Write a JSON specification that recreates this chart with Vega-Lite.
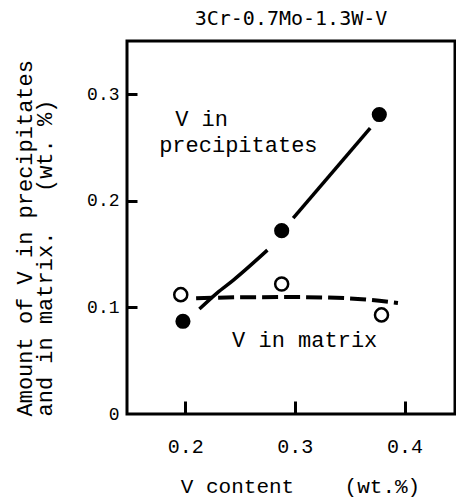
{
  "$schema": "https://vega.github.io/schema/vega-lite/v6.json",
  "width": 328,
  "height": 373,
  "autosize": {"type": "none"},
  "padding": {"left": 127, "top": 41, "right": 1, "bottom": 83},
  "background": "white",
  "config": {
    "view": {"stroke": "black", "strokeWidth": 3},
    "font": "Liberation Mono"
  },
  "title": {
    "text": "3Cr-0.7Mo-1.3W-V",
    "font": "DejaVu Sans Mono",
    "fontSize": 20,
    "fontWeight": "normal",
    "color": "black",
    "anchor": "middle",
    "offset": 12
  },
  "datasets": {
    "points": [
      {"x": 0.198, "y": 0.087, "series": "precipitates"},
      {"x": 0.288, "y": 0.172, "series": "precipitates"},
      {"x": 0.377, "y": 0.281, "series": "precipitates"},
      {"x": 0.196, "y": 0.112, "series": "matrix"},
      {"x": 0.288, "y": 0.122, "series": "matrix"},
      {"x": 0.379, "y": 0.093, "series": "matrix"}
    ],
    "solid": [
      {"x": 0.213, "y": 0.0985, "seg": "a"},
      {"x": 0.229, "y": 0.1135, "seg": "a"},
      {"x": 0.244, "y": 0.1257, "seg": "a"},
      {"x": 0.275, "y": 0.1538, "seg": "a"},
      {"x": 0.2985, "y": 0.1839, "seg": "b"},
      {"x": 0.3687, "y": 0.2683, "seg": "b"}
    ],
    "dashed": [
      {"x": 0.21, "y": 0.1085},
      {"x": 0.25, "y": 0.1095},
      {"x": 0.30, "y": 0.1097},
      {"x": 0.35, "y": 0.1085},
      {"x": 0.394, "y": 0.1041}
    ],
    "labels": [
      {"x": 0.1909, "y": 0.2765, "text": "V in"},
      {"x": 0.1763, "y": 0.2520, "text": "precipitates"},
      {"x": 0.2428, "y": 0.0694, "text": "V in matrix"}
    ]
  },
  "resolve": {"axis": {"x": "independent", "y": "independent"}},
  "layer": [
    {
      "data": {"name": "solid"},
      "mark": {"type": "line", "color": "black", "strokeWidth": 3.5, "interpolate": "monotone"},
      "encoding": {
        "x": {
          "field": "x",
          "type": "quantitative",
          "scale": {"domain": [0.147, 0.446], "nice": false, "zero": false},
          "axis": {
            "values": [0.2, 0.3, 0.4],
            "format": "~g",
            "domain": false,
            "grid": false,
            "ticks": false,
            "labelFont": "Liberation Mono",
            "labelFontSize": 20,
            "labelColor": "black",
            "labelPadding": 22,
            "title": "V content\u00a0\u00a0\u00a0\u00a0(wt.%)",
            "titleFont": "Liberation Mono",
            "titleFontSize": 21,
            "titleFontWeight": "normal",
            "titleColor": "black",
            "titleX": 173,
            "titleY": 78,
            "titleBaseline": "alphabetic"
          }
        },
        "y": {
          "field": "y",
          "type": "quantitative",
          "scale": {"domain": [0, 0.35], "nice": false},
          "axis": {
            "values": [0, 0.1, 0.2, 0.3],
            "format": "~g",
            "domain": false,
            "grid": false,
            "ticks": false,
            "labelFont": "Liberation Mono",
            "labelFontSize": 18,
            "labelColor": "black",
            "labelPadding": 8,
            "title": ["Amount of V in precipitates", "and in matrix.\u00a0\u00a0\u00a0(wt.\u00a0%)"],
            "titleFont": "Liberation Mono",
            "titleFontSize": 22,
            "titleFontWeight": "normal",
            "titleColor": "black",
            "titleLineHeight": 20,
            "titleAlign": "left",
            "titleAngle": -90,
            "titleX": -113,
            "titleY": 375,
            "titleBaseline": "top"
          }
        },
        "detail": {"field": "seg"}
      }
    },
    {
      "data": {"name": "points"},
      "mark": {"type": "point", "opacity": 0},
      "encoding": {
        "x": {
          "field": "x",
          "type": "quantitative",
          "scale": {"domain": [0.147, 0.446], "nice": false, "zero": false},
          "axis": {
            "orient": "top",
            "offset": -373,
            "zindex": 2,
            "values": [0.2, 0.3, 0.4],
            "domain": false,
            "grid": false,
            "labels": false,
            "title": null,
            "ticks": true,
            "tickSize": 13,
            "tickWidth": 3,
            "tickColor": "black",
            "tickOpacity": 1
          }
        },
        "y": {
          "field": "y",
          "type": "quantitative",
          "scale": {"domain": [0, 0.35], "nice": false},
          "axis": {
            "orient": "right",
            "offset": -328,
            "zindex": 2,
            "values": [0.1, 0.2, 0.3],
            "domain": false,
            "grid": false,
            "labels": false,
            "title": null,
            "ticks": true,
            "tickSize": 10,
            "tickWidth": 3,
            "tickColor": "black",
            "tickOpacity": 1
          }
        }
      }
    },
    {
      "data": {"name": "dashed"},
      "mark": {"type": "line", "color": "black", "strokeWidth": 4, "strokeDash": [16, 6], "interpolate": "monotone"},
      "encoding": {
        "x": {"field": "x", "type": "quantitative", "axis": null},
        "y": {"field": "y", "type": "quantitative", "axis": null}
      }
    },
    {
      "data": {"name": "points"},
      "transform": [{"filter": "datum.series === 'precipitates'"}],
      "mark": {"type": "point", "shape": "circle", "filled": true, "color": "black", "size": 230, "opacity": 1},
      "encoding": {
        "x": {"field": "x", "type": "quantitative", "axis": null},
        "y": {"field": "y", "type": "quantitative", "axis": null}
      }
    },
    {
      "data": {"name": "points"},
      "transform": [{"filter": "datum.series === 'matrix'"}],
      "mark": {"type": "point", "shape": "circle", "filled": false, "color": "black", "fill": "white", "size": 170, "strokeWidth": 2.5, "opacity": 1},
      "encoding": {
        "x": {"field": "x", "type": "quantitative", "axis": null},
        "y": {"field": "y", "type": "quantitative", "axis": null}
      }
    },
    {
      "data": {"name": "labels"},
      "mark": {"type": "text", "align": "left", "baseline": "middle", "font": "Liberation Mono", "fontSize": 22, "color": "black"},
      "encoding": {
        "x": {"field": "x", "type": "quantitative", "axis": null},
        "y": {"field": "y", "type": "quantitative", "axis": null},
        "text": {"field": "text"}
      }
    }
  ]
}
